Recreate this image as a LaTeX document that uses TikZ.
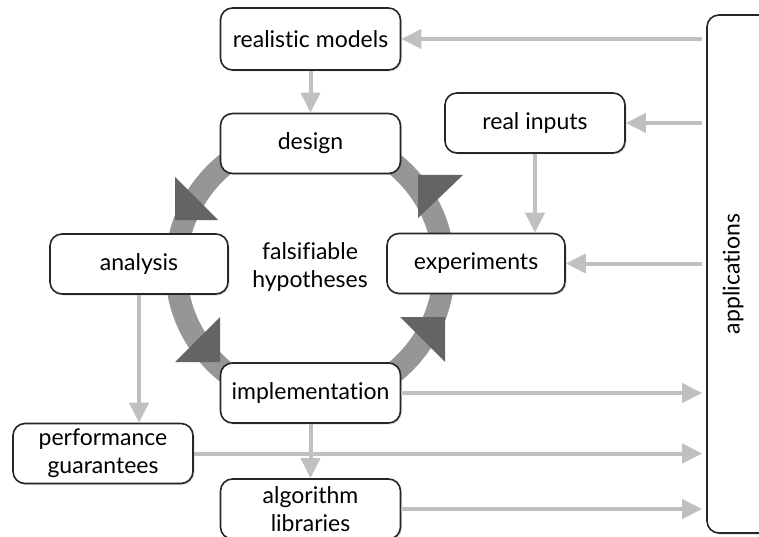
\documentclass[tikz,border=0pt]{standalone}
\usepackage{fontspec}
\setmainfont[Ligatures=NoCommon]{Lato}
\usetikzlibrary{arrows.meta,shadows}
\definecolor{conncol}{RGB}{192,192,192}
\definecolor{ringcol}{RGB}{150,150,150}
\definecolor{headcol}{RGB}{100,100,100}
\tikzset{
  box/.style={draw=black!85, line width=1.6pt, fill=white, rounded corners=12pt,
    minimum width=180pt, minimum height=60pt, align=center, inner sep=0pt,
    font=\fontsize{23}{28}\selectfont,
    drop shadow={opacity=0.25, shadow xshift=1.5pt, shadow yshift=-1.5pt}},
  conn/.style={draw=conncol, line width=4pt, -{Triangle[length=20pt,width=19pt]}},
  ringhead/.style={fill=headcol, draw=none},
}
\begin{document}
\begin{tikzpicture}[x=1pt,y=-1pt]
\useasboundingbox (0,0) rectangle (759,537);
% cycle ring
\coordinate (c) at (310,268);
\draw[ringcol, line width=22pt] (c) circle (134);
\fill[ringhead] (175,220) -- (175,177) -- (218,220) -- cycle;
\fill[ringhead] (418,175) -- (463,175) -- (418,218) -- cycle;
\fill[ringhead] (220,362) -- (220,317) -- (175,362) -- cycle;
\fill[ringhead] (445,317) -- (400,317) -- (445,362) -- cycle;
% nodes
\node[box, minimum height=62pt] (rm) at (310.5,39) {realistic models};
\node[box] (design) at (310.5,143.5) {design};
\node[box] (ri) at (535,123) {real inputs};
\node[box, minimum width=178pt] (exp) at (476,263.5) {experiments};
\node[box, minimum width=178pt] (ana) at (139,264) {analysis};
\node[box] (impl) at (310.5,393) {implementation};
\node[box] (pg) at (103,453.5) {performance\\guarantees};
\node[box] (alg) at (310.5,509) {algorithm\\libraries};
\node[align=center, font=\fontsize{23}{28}\selectfont] (hyp) at (310,267) {falsifiable\\hypotheses};
\node[box, minimum width=66pt, minimum height=518pt, drop shadow={opacity=0}] (apps) at (740,274)
  {\rotatebox{90}{applications}\hspace*{14pt}};
% connectors
\draw[conn, shorten <=4pt] (apps.west |- rm.east) -- (rm.east);
\draw[conn, shorten <=4pt] (apps.west |- ri.east) -- (ri.east);
\draw[conn, shorten <=4pt] (apps.west |- exp.east) -- (exp.east);
\draw[conn] (ri.south) -- (ri.south |- exp.north);
\draw[conn] (rm.south) -- (design.north);
\draw[conn] (ana.south) -- (ana.south |- pg.north);
\draw[conn, shorten >=4pt] (impl.east) -- (apps.west |- impl.east);
\draw[conn, shorten >=4pt] (pg.east) -- (apps.west |- pg.east);
\draw[conn, shorten >=4pt] (alg.east) -- (apps.west |- alg.east);
\draw[conn] (impl.south) -- (alg.north);
\end{tikzpicture}
\end{document}
